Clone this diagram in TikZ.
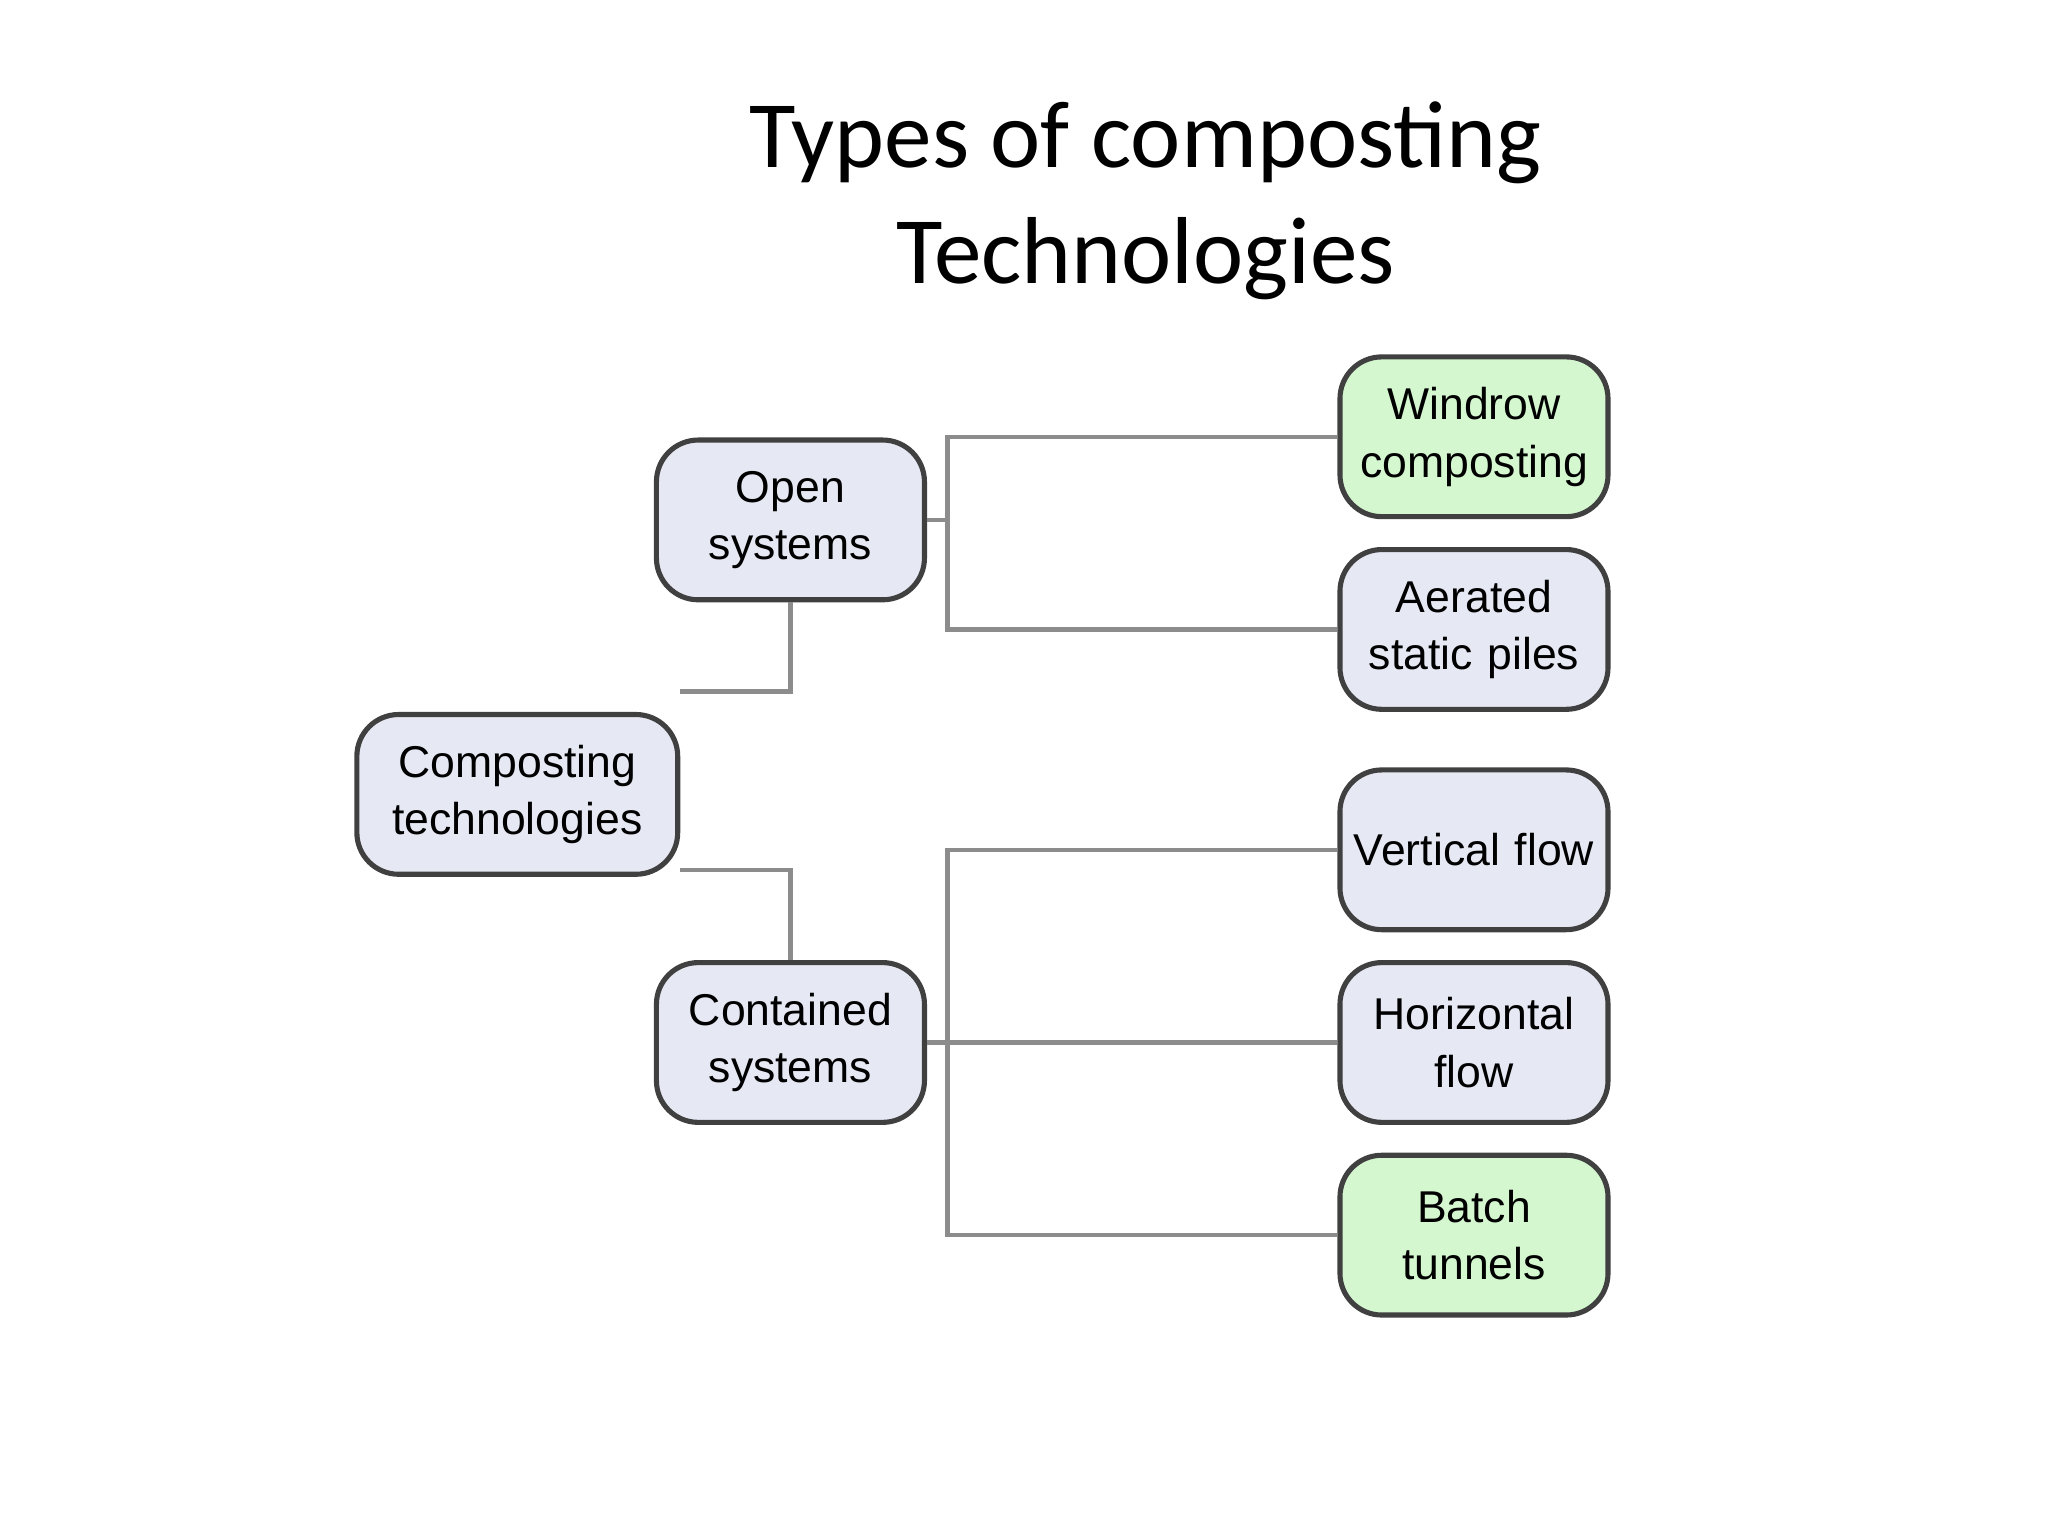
\documentclass[tikz,border=0pt]{standalone}
\usepackage{fontspec}
\setmainfont{Carlito}
\newfontfamily\boxfont{Liberation Sans}
\definecolor{boxfill}{HTML}{E6E9F4}
\definecolor{greenfill}{HTML}{D4F7D0}
\begin{document}
\begin{tikzpicture}[x=0.01cm,y=-0.01cm,
 bx/.style={draw=black!75,line width=1.1pt,rounded corners=9pt,fill=boxfill,text width=1.98cm,align=center,font=\boxfont\fontsize{9.6}{12.4}\selectfont,minimum width=2.03cm,minimum height=1.21cm,inner sep=0pt},
 gbx/.style={bx,fill=greenfill},
 ln/.style={draw=black!45,line width=0.9pt}]
\useasboundingbox (0,0) rectangle (1552,1164);
\node[font=\fontsize{20.5}{25}\selectfont,align=center] (title) at (868,152) {Types of composting\\Technologies};
\node[bx,text width=2.4cm,minimum width=2.43cm] (comp) at (392,602) {Composting\\technologies};
\node[bx] (open) at (599,394) {Open\\systems};
\node[bx] (cont) at (599,790) {Contained\\systems};
\node[gbx] (wind) at (1117,331) {Windrow\\composting};
\node[bx] (aer) at (1117,477) {Aerated\\static piles};
\node[bx] (vert) at (1117,644) {Vertical flow};
\node[bx] (hor) at (1117,790) {Horizontal\\flow};
\node[gbx] (bat) at (1117,936) {Batch\\tunnels};
\coordinate (oj) at (718,394);
\coordinate (cj) at (718,790);
\draw[ln] (open.east) -- (oj);
\draw[ln] (wind.west) -| (oj) |- (aer.west);
\draw[ln] (cont.east) -- (cj) -- (hor.west);
\draw[ln] (vert.west) -| (cj) |- (bat.west);
\draw[ln] (open.south) |- (comp.east |- 0,524);
\draw[ln] (comp.east |- 0,659) -| (cont.north);
\end{tikzpicture}
\end{document}
